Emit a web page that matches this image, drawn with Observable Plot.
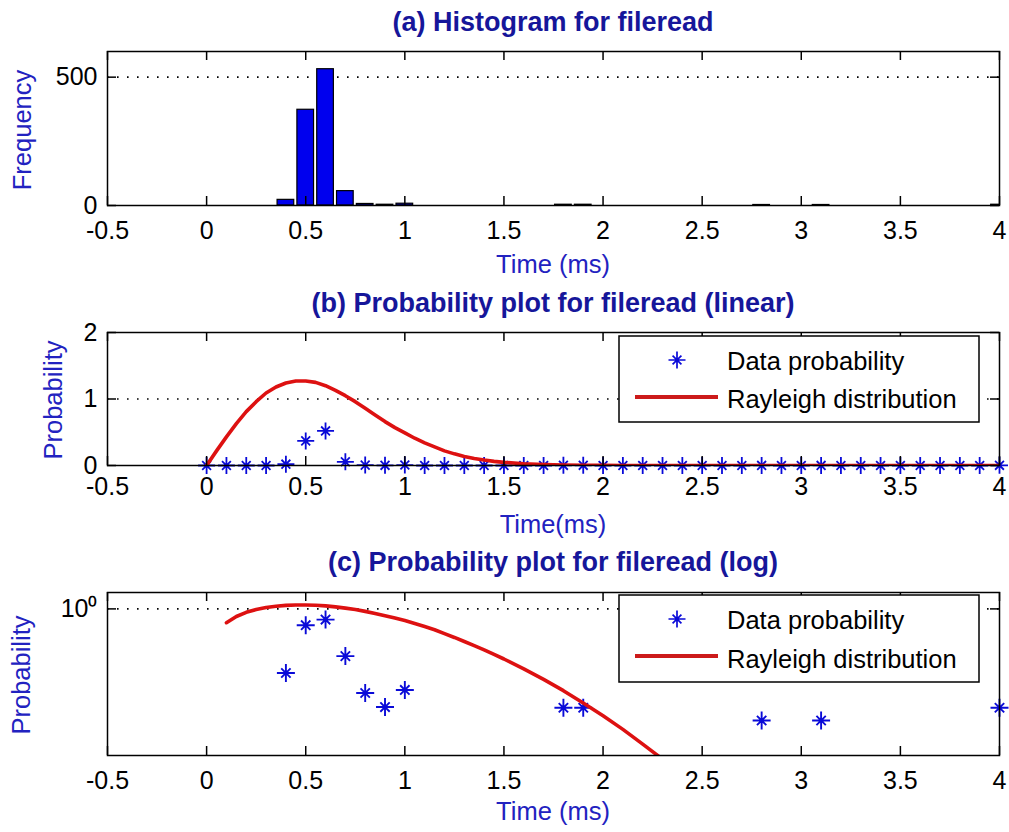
<!DOCTYPE html>
<html>
<head>
<meta charset="utf-8">
<script src="https://cdn.jsdelivr.net/npm/d3@7"></script>
<script src="https://cdn.jsdelivr.net/npm/@observablehq/plot@0.6"></script>
<style>
  html, body { margin: 0; padding: 0; background: #fff; }
  #wrap { position: relative; width: 1009px; height: 832px; background: #fff; overflow: hidden; }
  #overlay { position: absolute; left: 0; top: 0; z-index: 5; pointer-events: none; }
</style>
</head>
<body>
<div id="wrap"></div>
<script>
// ---------- data ----------
const xTicks = [-0.5, 0, 0.5, 1, 1.5, 2, 2.5, 3, 3.5, 4];

// (a) histogram
const histBins   = [0.4, 0.5, 0.6, 0.7, 0.8, 0.9, 1.0, 1.8, 1.9, 2.8, 3.1, 4.0];
const histCounts = [22, 373, 531, 56, 6, 3, 7, 3, 3, 2, 2, 3];
const histYTicks = [0, 500];

// (b)/(c) data probability at bin centres
const probX = [0, 0.1, 0.2, 0.3, 0.4, 0.5, 0.6, 0.7, 0.8, 0.9, 1.0,
               1.1, 1.2, 1.3, 1.4, 1.5, 1.6, 1.7, 1.8, 1.9, 2.0,
               2.1, 2.2, 2.3, 2.4, 2.5, 2.6, 2.7, 2.8, 2.9, 3.0,
               3.1, 3.2, 3.3, 3.4, 3.5, 3.6, 3.7, 3.8, 3.9, 4.0];
const probY = [0, 0, 0, 0, 0.02, 0.37, 0.52, 0.056, 0.0059, 0.0025, 0.0071,
               0, 0, 0, 0, 0, 0, 0, 0.0024, 0.0024, 0,
               0, 0, 0, 0, 0, 0, 0, 0.0011, 0, 0,
               0.0011, 0, 0, 0, 0, 0, 0, 0, 0, 0.0024];

// Rayleigh distribution curve
const curveX = [0, 0.05, 0.1, 0.15, 0.2, 0.25, 0.3, 0.35, 0.4, 0.45, 0.5,
                0.55, 0.6, 0.65, 0.7, 0.75, 0.8, 0.85, 0.9, 0.95, 1.0,
                1.05, 1.1, 1.15, 1.2, 1.25, 1.3, 1.35, 1.4, 1.45, 1.5,
                1.6, 1.7, 1.8, 1.9, 2.0, 2.1, 2.2, 2.3, 2.4, 2.5, 2.6, 2.7, 3.0, 3.5, 4.0];
const curveY = [0, 0.22, 0.43, 0.63, 0.81, 0.96, 1.09, 1.18, 1.24, 1.27, 1.27,
                1.25, 1.20, 1.13, 1.05, 0.96, 0.86, 0.76, 0.66, 0.57, 0.49,
                0.41, 0.34, 0.28, 0.22, 0.175, 0.137, 0.106, 0.082, 0.062, 0.047,
                0.0258, 0.0135, 0.0068, 0.0032, 0.00147, 0.00064, 0.00026, 0.000104,
                0.00004, 0.000014, 0.000004, 0.000001, 0.00000002, 0.00000000001, 0.00000000000001];

const linYTicks = [0, 1, 2];
const logYTicks = [1];

// ---------- styling ----------
const FONT = "'Liberation Sans', Arial, Helvetica, sans-serif";
const BLUE_BAR = "#0000ee";
const STAR_BLUE = "#0a0ad8";
const RED = "#dd1111";
const TITLE_COL = "#16169a";
const LABEL_COL = "#2222c0";

const hist = histBins.map((x, i) => ({x, count: histCounts[i]}));
const prob = probX.map((x, i) => ({x, p: probY[i]}));
const curve = curveX.map((x, i) => ({x, y: curveY[i]}));

// MATLAB-like '*' marker
const star8 = {
  draw(ctx, size) {
    const r = Math.sqrt(size / Math.PI);
    const d = r * 0.52;
    ctx.moveTo(-r, 0); ctx.lineTo(r, 0);
    ctx.moveTo(0, -r); ctx.lineTo(0, r);
    ctx.moveTo(-d, -d); ctx.lineTo(d, d);
    ctx.moveTo(-d, d); ctx.lineTo(d, -d);
  }
};

const W = 1009, ML = 107, MR = 10;
const innerW = W - ML - MR;

function frameMarks(yTicks, innerH, yFormat, xPad) {
  return [
    Plot.frame({stroke: "black", strokeWidth: 1.5}),
    Plot.tickX(xTicks, {x: d => d, insetTop: innerH - 9, stroke: "black", strokeWidth: 1.5}),
    Plot.tickX(xTicks, {x: d => d, insetBottom: innerH - 9, stroke: "black", strokeWidth: 1.5}),
    Plot.tickY(yTicks, {y: d => d, insetRight: innerW - 9, stroke: "black", strokeWidth: 1.5}),
    Plot.tickY(yTicks, {y: d => d, insetLeft: innerW - 9, stroke: "black", strokeWidth: 1.5}),
    Plot.axisX({ticks: xTicks, tickSize: 0, tickPadding: xPad, tickFormat: d => String(d), label: null, fill: "black"}),
    Plot.axisY({ticks: yTicks, tickSize: 0, tickPadding: 10, tickFormat: yFormat, label: null, fill: "black"})
  ];
}

const baseStyle = {fontFamily: FONT, fontSize: "25px", color: "black", background: "transparent", overflow: "visible"};

// ---------- panel (a) ----------
const aTop = 0, aH = 280, aMT = 51, aMB = 75;
const panelA = Plot.plot({
  width: W, height: aH, marginTop: aMT, marginBottom: aMB, marginLeft: ML, marginRight: MR,
  x: {domain: [-0.5, 4]},
  y: {domain: [0, 600]},
  style: baseStyle,
  marks: [
    Plot.ruleY(histYTicks.filter(d => d > 0), {y: d => d, stroke: "black", strokeWidth: 1.6, strokeDasharray: "1.6,8.4"}),
    Plot.rect(hist, {x1: d => d.x - 0.042, x2: d => d.x + 0.042, y1: () => 0, y2: "count",
                     fill: BLUE_BAR, stroke: "black", strokeWidth: 1.2, clip: true}),
    ...frameMarks(histYTicks, aH - aMT - aMB, d => String(d), 16)
  ]
});

// ---------- panel (b) ----------
const bTop = 280, bH = 270, bMT = 52, bMB = 85;
const panelB = Plot.plot({
  width: W, height: bH, marginTop: bMT, marginBottom: bMB, marginLeft: ML, marginRight: MR,
  x: {domain: [-0.5, 4]},
  y: {domain: [0, 2]},
  style: baseStyle,
  marks: [
    Plot.ruleY([1], {stroke: "black", strokeWidth: 1.6, strokeDasharray: "1.6,8.4"}),
    Plot.dot(prob, {x: "x", y: "p", symbol: star8, r: 8.5, fill: "none", stroke: STAR_BLUE, strokeWidth: 1.8}),
    Plot.line(curve, {x: "x", y: "y", stroke: RED, strokeWidth: 3.6, clip: true}),
    ...frameMarks(linYTicks, bH - bMT - bMB, d => String(d), 12)
  ]
});

// ---------- panel (c) ----------
const cTop = 550, cH = 282, cMT = 42, cMB = 77;
const panelC = Plot.plot({
  width: W, height: cH, marginTop: cMT, marginBottom: cMB, marginLeft: ML, marginRight: MR,
  x: {domain: [-0.5, 4]},
  y: {type: "log", domain: [1.3e-4, 2.72]},
  style: baseStyle,
  marks: [
    Plot.ruleY(logYTicks, {y: d => d, stroke: "black", strokeWidth: 1.6, strokeDasharray: "1.6,8.4"}),
    Plot.dot(prob, {filter: d => d.p > 0, x: "x", y: "p", symbol: star8, r: 9, fill: "none", stroke: STAR_BLUE, strokeWidth: 1.9}),
    Plot.line(curve, {filter: d => d.y > 0 && d.x >= 0.1, x: "x", y: "y", stroke: RED, strokeWidth: 3.6, clip: true}),
    ...frameMarks(logYTicks, cH - cMT - cMB, () => "10\u2070", 16)
  ]
});

const wrap = document.getElementById("wrap");
[[panelA, aTop], [panelB, bTop], [panelC, cTop]].forEach(([svg, top]) => {
  svg.style.position = "absolute";
  svg.style.top = top + "px";
  svg.style.left = "0px";
  wrap.appendChild(svg);
});

// ---------- overlay: titles, axis labels, legends ----------
const ov = d3.select(wrap).append("svg").attr("id", "overlay")
  .attr("width", W).attr("height", 832)
  .style("font-family", FONT);

const titles = [
  {t: "(a) Histogram for fileread", y: 31},
  {t: "(b) Probability plot for fileread (linear)", y: 312},
  {t: "(c) Probability plot for fileread (log)", y: 571}
];
ov.selectAll("text.title").data(titles).join("text").attr("class", "title")
  .attr("x", 553).attr("y", d => d.y).attr("text-anchor", "middle")
  .attr("font-size", 27).attr("font-weight", "bold").attr("fill", TITLE_COL)
  .text(d => d.t);

const xLabels = [
  {t: "Time (ms)", y: 273},
  {t: "Time(ms)", y: 533},
  {t: "Time (ms)", y: 820}
];
ov.selectAll("text.xl").data(xLabels).join("text").attr("class", "xl")
  .attr("x", 553).attr("y", d => d.y).attr("text-anchor", "middle")
  .attr("font-size", 25.5).attr("fill", LABEL_COL).text(d => d.t);

const yLabels = [
  {t: "Frequency", x: 31, y: 130},
  {t: "Probability", x: 62, y: 400},
  {t: "Probability", x: 30, y: 675}
];
ov.selectAll("text.yl").data(yLabels).join("text").attr("class", "yl")
  .attr("transform", d => `translate(${d.x},${d.y}) rotate(-90)`)
  .attr("text-anchor", "middle")
  .attr("font-size", 25.5).attr("fill", LABEL_COL).text(d => d.t);

// legends
const starPath = d3.path(); star8.draw(starPath, Math.PI * 8.5 * 8.5);
const legends = [
  {x: 619, y: 336, h: 86, row1: 24, row2: 61, base1: 34, base2: 72},
  {x: 619, y: 595, h: 87, row1: 24, row2: 61, base1: 34, base2: 73}
];
legends.forEach(L => {
  const g = ov.append("g").attr("transform", `translate(${L.x},${L.y})`);
  g.append("rect").attr("width", 360).attr("height", L.h)
    .attr("fill", "white").attr("stroke", "black").attr("stroke-width", 1.5);
  g.append("path").attr("d", starPath.toString())
    .attr("transform", `translate(58,${L.row1})`)
    .attr("fill", "none").attr("stroke", STAR_BLUE).attr("stroke-width", 1.7);
  g.append("line").attr("x1", 16).attr("x2", 99).attr("y1", L.row2).attr("y2", L.row2)
    .attr("stroke", "#cc1a1a").attr("stroke-width", 4);
  g.append("text").attr("x", 108).attr("y", L.base1).attr("font-size", 25.5).attr("fill", "black").text("Data probability");
  g.append("text").attr("x", 108).attr("y", L.base2).attr("font-size", 25.5).attr("fill", "black").text("Rayleigh distribution");
});
</script>
</body>
</html>
